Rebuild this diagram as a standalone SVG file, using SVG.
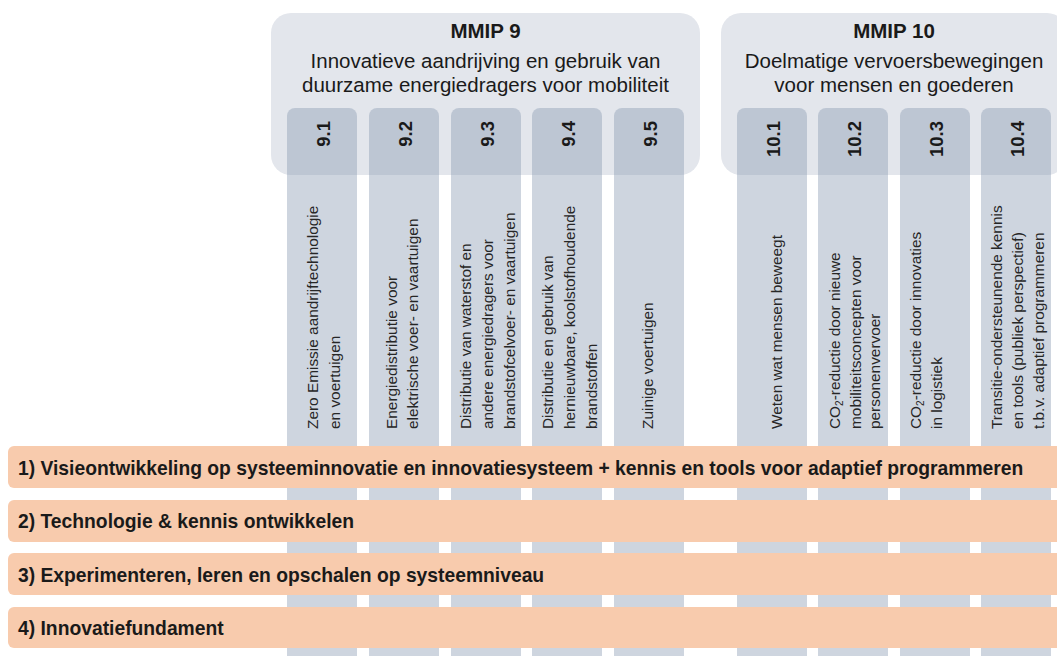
<svg xmlns="http://www.w3.org/2000/svg" width="1057" height="656" viewBox="0 0 1057 656">
<style>
.hdr{fill:#e3e6ec}
.col{fill:#8497b0;fill-opacity:.4}
.bar{fill:#f8cbad}
.tt{font-family:'Liberation Sans',Arial,sans-serif;font-weight:bold;font-size:20.5px;fill:#1a1a1a;text-anchor:middle}
.ts{font-family:'Liberation Sans',Arial,sans-serif;font-size:20.5px;fill:#1a1a1a;text-anchor:middle}
.num{font-family:'Liberation Sans',Arial,sans-serif;font-weight:bold;font-size:18.5px;fill:#1a1a1a;text-anchor:end}
.desc{font-family:'Liberation Sans',Arial,sans-serif;font-size:15.4px;fill:#262626}
.bt{font-family:'Liberation Sans',Arial,sans-serif;font-weight:bold;font-size:19.3px;fill:#1a1a1a}
</style>
<rect width="1057" height="656" fill="#fff"/>
<g id="mmip9">
<rect class="hdr" x="271" y="13" width="429" height="162" rx="20"/>
<text class="tt" x="485.5" y="38">MMIP 9</text>
<text class="ts" x="485.5" y="68">Innovatieve aandrijving en gebruik van</text>
<text class="ts" x="485.5" y="92">duurzame energiedragers voor mobiliteit</text>
</g>
<g id="mmip10">
<rect class="hdr" x="721" y="13" width="346" height="162" rx="20"/>
<text class="tt" x="894" y="38">MMIP 10</text>
<text class="ts" x="894" y="68">Doelmatige vervoersbewegingen</text>
<text class="ts" x="894" y="92">voor mensen en goederen</text>
</g>
<g id="col-9-1">
<rect class="col" x="287" y="108" width="70" height="560" rx="8"/>
<text class="num" transform="translate(330,121) rotate(-90)">9.1</text>
<text class="desc" transform="translate(318,429) rotate(-90)">Zero Emissie aandrijftechnologie</text>
<text class="desc" transform="translate(340,429) rotate(-90)">en voertuigen</text>
</g>
<g id="col-9-2">
<rect class="col" x="369" y="108" width="70" height="560" rx="8"/>
<text class="num" transform="translate(412,121) rotate(-90)">9.2</text>
<text class="desc" transform="translate(397,429) rotate(-90)">Energiedistributie voor</text>
<text class="desc" transform="translate(418,429) rotate(-90)">elektrische voer- en vaartuigen</text>
</g>
<g id="col-9-3">
<rect class="col" x="451" y="108" width="70" height="560" rx="8"/>
<text class="num" transform="translate(494,121) rotate(-90)">9.3</text>
<text class="desc" transform="translate(471,429) rotate(-90)">Distributie van waterstof en</text>
<text class="desc" transform="translate(493,429) rotate(-90)">andere energiedragers voor</text>
<text class="desc" transform="translate(515,429) rotate(-90)">brandstofcelvoer- en vaartuigen</text>
</g>
<g id="col-9-4">
<rect class="col" x="532" y="108" width="70" height="560" rx="8"/>
<text class="num" transform="translate(575,121) rotate(-90)">9.4</text>
<text class="desc" transform="translate(553,429) rotate(-90)">Distributie en gebruik van</text>
<text class="desc" transform="translate(575,429) rotate(-90)">hernieuwbare, koolstofhoudende</text>
<text class="desc" transform="translate(597,429) rotate(-90)">brandstoffen</text>
</g>
<g id="col-9-5">
<rect class="col" x="614" y="108" width="70" height="560" rx="8"/>
<text class="num" transform="translate(657,121) rotate(-90)">9.5</text>
<text class="desc" transform="translate(653,429) rotate(-90)">Zuinige voertuigen</text>
</g>
<g id="col-10-1">
<rect class="col" x="737" y="108" width="70" height="560" rx="8"/>
<text class="num" transform="translate(780,121) rotate(-90)">10.1</text>
<text class="desc" transform="translate(782,429) rotate(-90)">Weten wat mensen beweegt</text>
</g>
<g id="col-10-2">
<rect class="col" x="818" y="108" width="70" height="560" rx="8"/>
<text class="num" transform="translate(861,121) rotate(-90)">10.2</text>
<text class="desc" transform="translate(840,429) rotate(-90)">CO<tspan font-size="10" dy="3">2</tspan><tspan dy="-3">-reductie door nieuwe</tspan></text>
<text class="desc" transform="translate(861,429) rotate(-90)">mobiliteitsconcepten voor</text>
<text class="desc" transform="translate(880,429) rotate(-90)">personenvervoer</text>
</g>
<g id="col-10-3">
<rect class="col" x="900" y="108" width="70" height="560" rx="8"/>
<text class="num" transform="translate(943,121) rotate(-90)">10.3</text>
<text class="desc" transform="translate(921,429) rotate(-90)">CO<tspan font-size="10" dy="3">2</tspan><tspan dy="-3">-reductie door innovaties</tspan></text>
<text class="desc" transform="translate(942,429) rotate(-90)">in logistiek</text>
</g>
<g id="col-10-4">
<rect class="col" x="981" y="108" width="70" height="560" rx="8"/>
<text class="num" transform="translate(1024,121) rotate(-90)">10.4</text>
<text class="desc" transform="translate(1002,429) rotate(-90)">Transitie-ondersteunende kennis</text>
<text class="desc" transform="translate(1023,429) rotate(-90)">en tools (publiek perspectief)</text>
<text class="desc" transform="translate(1044,429) rotate(-90)">t.b.v. adaptief programmeren</text>
</g>
<g id="bar-1">
<rect class="bar" x="8" y="446" width="1060" height="42" rx="6"/>
<text class="bt" x="18" y="475">1) Visieontwikkeling op systeeminnovatie en innovatiesysteem + kennis en tools voor adaptief programmeren</text>
</g>
<g id="bar-2">
<rect class="bar" x="8" y="500" width="1060" height="42" rx="6"/>
<text class="bt" x="18" y="528">2) Technologie &amp; kennis ontwikkelen</text>
</g>
<g id="bar-3">
<rect class="bar" x="8" y="553" width="1060" height="42" rx="6"/>
<text class="bt" x="18" y="582">3) Experimenteren, leren en opschalen op systeemniveau</text>
</g>
<g id="bar-4">
<rect class="bar" x="8" y="607" width="1060" height="41" rx="6"/>
<text class="bt" x="18" y="635">4) Innovatiefundament</text>
</g>
<g id="connectors"/>
</svg>
